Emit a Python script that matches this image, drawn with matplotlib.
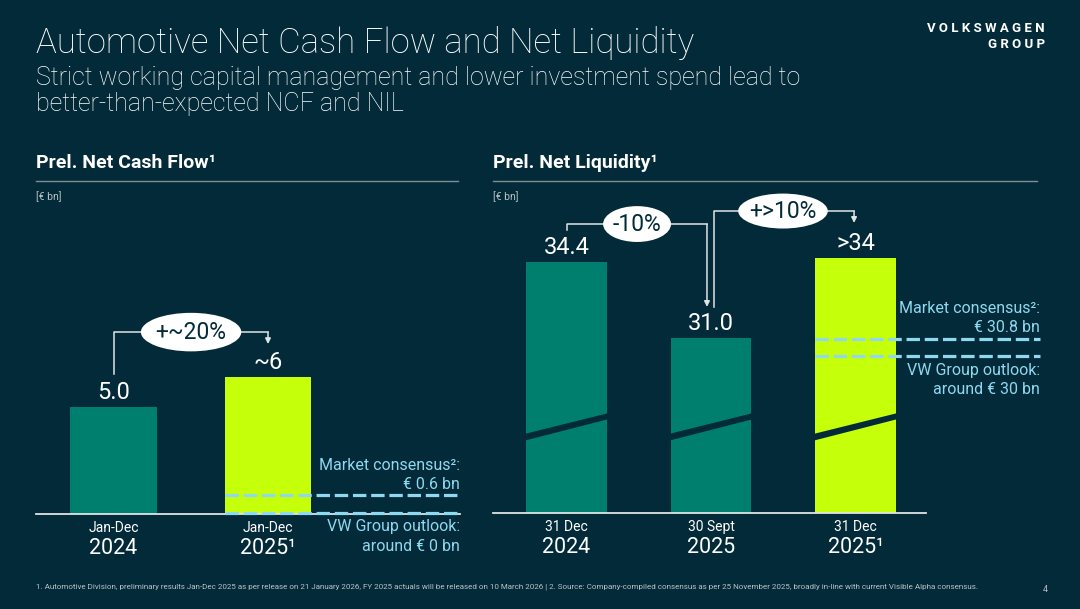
import matplotlib
matplotlib.use("Agg")
import matplotlib.pyplot as plt
from matplotlib.patches import Ellipse, Polygon

W, H = 1080, 609

BG = "#022a38"
TEAL = "#007f6e"
LIME = "#c6ff0a"
DASH = "#8ed8f0"
LINE = "#dfe4e6"
GREY = "#b9c3c7"

# --- data ---------------------------------------------------------------
NCF_PERIODS = ["Jan-Dec", "Jan-Dec"]
NCF_YEARS = ["2024", "2025¹"]
NCF_VALUES = [5.0, 6.4]
NCF_LABELS = ["5.0", "~6"]
NCF_CONSENSUS = 0.9
NCF_OUTLOOK = 0.05
NCF_CHANGE = "+~20%"

NL_PERIODS = ["31 Dec", "30 Sept", "31 Dec"]
NL_YEARS = ["2024", "2025", "2025¹"]
NL_VALUES = [34.4, 31.0, 34.6]
NL_LABELS = ["34.4", "31.0", ">34"]
NL_CONSENSUS = 30.95
NL_OUTLOOK = 30.2
NL_FLOOR = 23.2
NL_CHANGES = ["-10%", "+>10%"]

plt.rcParams["font.family"] = ["Roboto", "DejaVu Sans"]


def px_axes(fig, x0, y0, x1, y1):
    ax = fig.add_axes([x0 / W, 1 - y1 / H, (x1 - x0) / W, (y1 - y0) / H])
    ax.set_axis_off()
    ax.patch.set_alpha(0)
    return ax


def ftext(x, y, s, **kw):
    kw.setdefault("color", "white")
    kw.setdefault("va", "center")
    fig.text(x / W, 1 - y / H, s, **kw)


def connector(ax, pts, bubble, label, bw, bh):
    xs = [p[0] for p in pts[:-1]]
    ys = [p[1] for p in pts[:-1]]
    ax.plot(xs, ys, color=LINE, lw=1.1, clip_on=False, zorder=3)
    ax.annotate("", xy=pts[-1], xytext=pts[-2],
                arrowprops=dict(arrowstyle="-|>", color=LINE, lw=1.1,
                                mutation_scale=8, shrinkA=0, shrinkB=0),
                zorder=3, annotation_clip=False)
    ax.add_patch(Ellipse(bubble, bw, bh, facecolor="white", edgecolor="none",
                         zorder=5, clip_on=False))
    ax.text(bubble[0], bubble[1], label, ha="center", va="center",
            fontsize=16.5, color=BG, zorder=6)


def dash_block(ax, x0, x1, value, lines, offsets):
    ax.plot([x0, x1], [value, value], color=DASH, lw=2.3, ls=(0, (4.2, 1.5)),
            clip_on=False, zorder=4)
    for txt, off in zip(lines, offsets):
        ax.annotate(txt, (x1, value), xytext=(0, off), textcoords="offset points",
                    ha="right", va="center", fontsize=11.5, color=DASH,
                    annotation_clip=False)


def categories(ax, floor, periods, years):
    for i, (p, y) in enumerate(zip(periods, years)):
        ax.annotate(p, (i, floor), xytext=(0, -10), textcoords="offset points",
                    ha="center", va="center", fontsize=10, color="white",
                    annotation_clip=False)
        ax.annotate(y, (i, floor), xytext=(0, -24.5), textcoords="offset points",
                    ha="center", va="center", fontsize=15.5, color="white",
                    annotation_clip=False)


fig = plt.figure(figsize=(W / 100, H / 100), dpi=100)
fig.patch.set_facecolor(BG)

# --- header ---------------------------------------------------------------
ftext(36, 43, "Automotive Net Cash Flow and Net Liquidity", fontsize=25, weight="light")
ftext(36, 78, "Strict working capital management and lower investment spend lead to",
      fontsize=18, weight="light")
ftext(36, 104, "better-than-expected NCF and NIL", fontsize=18, weight="light")
ftext(1045, 28, "V O L K S W A G E N", ha="right", fontsize=9.5, weight="bold")
ftext(1045, 45, "G R O U P", ha="right", fontsize=9.5, weight="bold")

ftext(36, 163, "Prel. Net Cash Flow¹", fontsize=14, weight="bold")
ftext(493, 163, "Prel. Net Liquidity¹", fontsize=14, weight="bold")
fig.add_artist(plt.Line2D([36 / W, 458 / W], [1 - 181 / H] * 2, color="#7d8e95", lw=1))
fig.add_artist(plt.Line2D([493 / W, 1037 / W], [1 - 181 / H] * 2, color="#7d8e95", lw=1))
ftext(36, 197, "[€ bn]", fontsize=7.5, color=GREY)
ftext(493, 197, "[€ bn]", fontsize=7.5, color=GREY)

# --- left: net cash flow ---------------------------------------------------
ax1 = px_axes(fig, 36, 200, 460, 514)
ax1.set_xlim(-0.502, 2.243)
ax1.set_ylim(0, 314 / 21.4)
bw = 0.563
ax1.bar(range(len(NCF_VALUES)), NCF_VALUES, width=bw, color=[TEAL, LIME], zorder=2)
ax1.plot([-0.502, 2.243], [0, 0], color=LINE, lw=1.3, clip_on=False, zorder=3)
for i, (v, lbl) in enumerate(zip(NCF_VALUES, NCF_LABELS)):
    ax1.annotate(lbl, (i, v), xytext=(0, 5.5), textcoords="offset points",
                 ha="center", va="baseline", fontsize=17, color="white")
categories(ax1, 0, NCF_PERIODS, NCF_YEARS)
dash_block(ax1, 1 - bw / 2, 2.243, NCF_CONSENSUS,
           ["Market consensus²:", "€ 0.6 bn"], [21, 7.2])
dash_block(ax1, 1 - bw / 2, 2.243, NCF_OUTLOOK,
           ["VW Group outlook:", "around € 0 bn"], [-10, -24])
connector(ax1, [(0, 6.54), (0, 8.5), (1.0, 8.5), (1.0, 7.94)],
          (0.502, 8.5), NCF_CHANGE, 0.65, 1.8)

# --- right: net liquidity -------------------------------------------------
ax2 = px_axes(fig, 493, 200, 1040, 513)
ax2.set_xlim(-0.509, 3.277)
ax2.set_ylim(NL_FLOOR, NL_FLOOR + 313 / 22.4)
bw2 = 0.56
heights = [v - NL_FLOOR for v in NL_VALUES]
ax2.bar(range(len(NL_VALUES)), heights, bottom=NL_FLOOR, width=bw2,
        color=[TEAL, TEAL, LIME], zorder=2)
for i in range(len(NL_VALUES)):
    l, r = i - bw2 / 2 - 0.01, i + bw2 / 2 + 0.01
    ax2.add_patch(Polygon([(l, 26.43), (l, 26.73), (r, 27.66), (r, 27.39)],
                          closed=True, facecolor=BG, edgecolor="none", zorder=2.5))
ax2.plot([-0.509, 2.488], [NL_FLOOR, NL_FLOOR], color=LINE, lw=1.3,
         clip_on=False, zorder=3)
for i, (v, lbl) in enumerate(zip(NL_VALUES, NL_LABELS)):
    ax2.annotate(lbl, (i, v), xytext=(0, 5.8), textcoords="offset points",
                 ha="center", va="baseline", fontsize=17, color="white")
categories(ax2, NL_FLOOR, NL_PERIODS, NL_YEARS)
dash_block(ax2, 2 - bw2 / 2, 3.277, NL_CONSENSUS,
           ["Market consensus²:", "€ 30.8 bn"], [22.3, 8.6])
dash_block(ax2, 2 - bw2 / 2, 3.277, NL_OUTLOOK,
           ["VW Group outlook:", "around € 30 bn"], [-10, -24])
connector(ax2, [(0, 35.83), (0, 36.1), (0.972, 36.1), (0.972, 32.4)],
          (0.488, 36.1), NL_CHANGES[0], 0.47, 1.6)
connector(ax2, [(1.02, 32.4), (1.02, 36.68), (1.99, 36.68), (1.99, 36.15)],
          (1.498, 36.68), NL_CHANGES[1], 0.62, 1.56)

# --- footer -------------------------------------------------------------------
ftext(36, 587, "1. Automotive Division, preliminary results Jan-Dec 2025 as per release on "
      "21 January 2026, FY 2025 actuals will be released on 10 March 2026 | 2. Source: "
      "Company-compiled consensus as per 25 November 2025, broadly in-line with current "
      "Visible Alpha consensus.", fontsize=5.8, color=GREY)
ftext(1043, 589, "4", fontsize=6.5, color=GREY)

fig.savefig("out.png", dpi=100, facecolor=BG)
